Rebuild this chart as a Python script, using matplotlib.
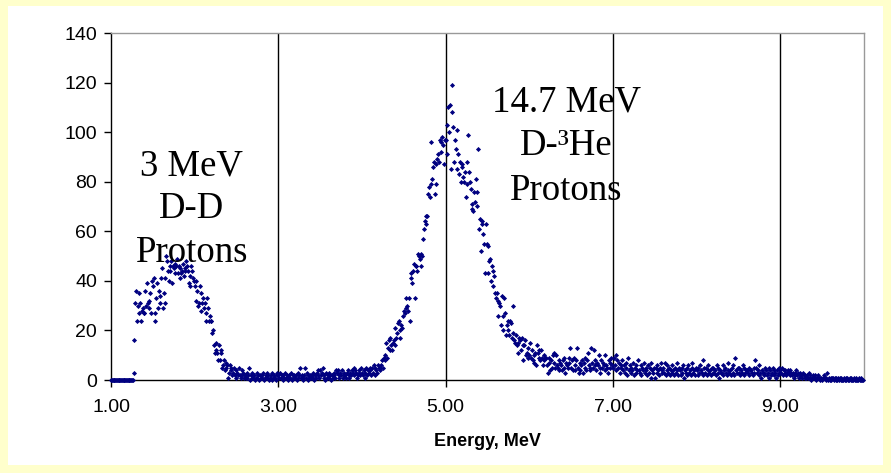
import numpy as np
import matplotlib
matplotlib.use("Agg")
import matplotlib.pyplot as plt
from matplotlib.patches import Rectangle
from matplotlib.ticker import FormatStrFormatter

# channel energies: 1.00 .. 9.99 MeV, 0.01 MeV per channel
energy_start = 1.00
energy_step = 0.01

# counts per channel, one list per MeV
counts_1 = [0, 0, 0, 0, 0, 0, 0, 0, 0, 0,
            0, 0, 0, 0, 0, 0, 0, 0, 0, 0,
            0, 0, 0, 0, 0, 0, 0, 3, 16, 31,
            36, 24, 30, 27, 35, 31, 24, 28, 29, 27,
            27, 36, 30, 39, 31, 32, 29, 35, 27, 40,
            38, 41, 27, 24, 33, 39, 29, 36, 31, 34,
            41, 45, 29, 35, 41, 31, 50, 48, 44, 40,
            46, 44, 48, 39, 46, 45, 47, 43, 46, 49,
            43, 46, 45, 41, 43, 44, 47, 42, 45, 44,
            48, 46, 44, 39, 42, 38, 46, 44, 41, 40]
counts_2 = [38, 40, 32, 36, 30, 31, 38, 35, 28, 31,
            33, 29, 31, 24, 27, 33, 29, 24, 26, 24,
            24, 19, 20, 14, 11, 15, 12, 11, 8, 14,
            8, 12, 11, 5, 6, 8, 4, 7, 5, 6,
            1, 3, 6, 5, 4, 2, 3, 5, 2, 4,
            1, 3, 2, 5, 2, 1, 4, 2, 3, 1,
            2, 1, 3, 1, 2, 5, 0, 2, 1, 3,
            1, 2, 0, 1, 3, 1, 2, 0, 2, 1,
            2, 1, 3, 0, 1, 2, 1, 3, 2, 0,
            1, 2, 0, 3, 1, 2, 1, 0, 2, 3]
counts_3 = [2, 1, 3, 1, 2, 0, 2, 1, 3, 1,
            2, 0, 1, 2, 1, 3, 0, 2, 1, 2,
            1, 2, 0, 3, 1, 2, 5, 1, 2, 0,
            1, 2, 5, 1, 3, 0, 2, 1, 2, 1,
            2, 1, 3, 0, 2, 1, 3, 2, 4, 1,
            4, 2, 3, 5, 1, 2, 0, 3, 1, 2,
            1, 3, 2, 0, 2, 1, 3, 2, 1, 4,
            3, 4, 2, 1, 3, 2, 4, 1, 2, 3,
            2, 1, 3, 4, 2, 1, 3, 2, 4, 3,
            5, 2, 4, 3, 1, 2, 4, 3, 2, 5]
counts_4 = [3, 2, 4, 1, 3, 5, 2, 4, 3, 5,
            4, 2, 5, 3, 6, 5, 2, 4, 3, 6,
            5, 4, 5, 6, 8, 5, 9, 8, 10, 15,
            9, 13, 16, 12, 17, 14, 12, 15, 16, 14,
            21, 17, 19, 23, 24, 17, 20, 22, 21, 26,
            28, 27, 33, 29, 30, 28, 33, 24, 41, 43,
            39, 44, 47, 33, 46, 46, 44, 51, 50, 49,
            46, 51, 50, 57, 61, 64, 66, 63, 66, 75,
            78, 74, 79, 96, 81, 86, 88, 75, 87, 79,
            89, 91, 88, 97, 96, 92, 98, 95, 87, 97]
counts_5 = [97, 103, 91, 110, 100, 111, 85, 108, 119, 102,
            88, 97, 93, 101, 85, 91, 83, 88, 80, 87,
            86, 82, 80, 84, 74, 79, 88, 99, 84, 80,
            77, 69, 71, 68, 76, 72, 81, 70, 76, 93,
            61, 65, 52, 64, 63, 59, 55, 43, 63, 55,
            43, 54, 48, 49, 40, 46, 38, 44, 42, 35,
            33, 35, 26, 32, 31, 30, 22, 34, 26, 20,
            33, 27, 18, 22, 24, 20, 18, 24, 23, 17,
            30, 19, 16, 15, 18, 14, 15, 11, 17, 16,
            12, 17, 14, 8, 14, 16, 10, 11, 9, 13]
counts_6 = [10, 15, 9, 12, 8, 10, 7, 11, 6, 14,
            11, 9, 12, 8, 12, 9, 6, 10, 8, 9,
            9, 6, 3, 7, 9, 4, 8, 5, 10, 7,
            11, 5, 10, 6, 5, 8, 4, 7, 6, 4,
            8, 5, 9, 3, 7, 6, 5, 7, 9, 13,
            5, 8, 4, 9, 6, 4, 8, 13, 5, 3,
            7, 4, 6, 8, 3, 7, 5, 9, 4, 8,
            11, 6, 5, 4, 13, 7, 5, 12, 8, 6,
            4, 7, 6, 10, 5, 3, 8, 5, 7, 6,
            10, 4, 6, 5, 3, 8, 7, 5, 9, 6]
counts_7 = [5, 9, 6, 10, 4, 8, 5, 7, 3, 6,
            5, 8, 4, 6, 3, 7, 5, 2, 9, 4,
            6, 3, 5, 4, 7, 2, 5, 3, 6, 4,
            8, 4, 3, 6, 2, 5, 4, 7, 3, 5,
            4, 2, 6, 3, 5, 7, 1, 4, 3, 5,
            1, 5, 3, 6, 4, 2, 5, 7, 3, 4,
            5, 3, 7, 2, 4, 6, 3, 5, 2, 4,
            3, 6, 4, 2, 5, 3, 7, 4, 2, 5,
            4, 2, 5, 3, 6, 1, 4, 3, 5, 2,
            6, 3, 4, 2, 5, 7, 3, 4, 2, 5]
counts_8 = [4, 2, 5, 3, 6, 4, 3, 8, 2, 5,
            3, 5, 2, 4, 6, 3, 4, 2, 5, 3,
            5, 3, 4, 2, 6, 3, 5, 1, 4, 3,
            3, 6, 2, 4, 5, 3, 2, 7, 4, 3,
            4, 2, 5, 3, 6, 2, 9, 4, 3, 5,
            3, 5, 2, 4, 3, 6, 2, 5, 3, 4,
            4, 3, 5, 2, 4, 4, 3, 2, 5, 3,
            8, 5, 3, 4, 2, 6, 3, 1, 4, 3,
            3, 2, 5, 4, 2, 3, 5, 1, 4, 2,
            3, 5, 2, 4, 3, 1, 4, 2, 5, 3]
counts_9 = [4, 3, 5, 2, 4, 3, 4, 2, 3, 4,
            3, 2, 4, 3, 2, 3, 1, 3, 2, 4,
            2, 3, 1, 2, 3, 2, 1, 3, 2, 1,
            2, 1, 2, 1, 3, 1, 2, 0, 1, 2,
            1, 2, 1, 0, 1, 2, 1, 0, 1, 1,
            0, 1, 2, 1, 0, 1, 3, 0, 1, 0,
            1, 0, 1, 1, 0, 1, 0, 1, 0, 1,
            0, 1, 0, 1, 0, 0, 1, 0, 1, 0,
            1, 0, 0, 1, 0, 1, 0, 0, 1, 0,
            0, 1, 0, 0, 1, 0, 0, 1, 0, 0]

x_ticks = [1.0, 3.0, 5.0, 7.0, 9.0]
y_ticks = [0, 20, 40, 60, 80, 100, 120, 140]

counts = counts_1 + counts_2 + counts_3 + counts_4 + counts_5 + counts_6 + counts_7 + counts_8 + counts_9
energy = energy_start + energy_step * np.arange(len(counts))

W, H = 891, 473
fig = plt.figure(figsize=(W / 100, H / 100), dpi=100)
fig.patch.set_facecolor('#FFFFCC')
# white chart area, behind the axes
fig.add_artist(Rectangle((8 / W, 8 / H), 875 / W, 459 / H, transform=fig.transFigure,
                         facecolor='white', edgecolor='none', zorder=-5))

ax = fig.add_axes([111 / W, (H - 380) / H, 753 / W, 347 / H])
ax.set_zorder(1)
ax.set_facecolor('white')
ax.plot(energy, counts, linestyle='none', marker='D', markersize=2.6,
        color='#000080', markeredgewidth=0, zorder=3, clip_on=False)

ax.set_xlim(1, 10)
ax.set_ylim(0, 140)
ax.set_xticks(x_ticks)
ax.set_yticks(y_ticks)
ax.xaxis.set_major_formatter(FormatStrFormatter('%.2f'))
ax.tick_params(direction='out', length=5, width=1, colors='black', labelsize=14)
ax.tick_params(axis='x', pad=9)
ax.tick_params(axis='y', pad=5)
for lab in ax.get_xticklabels() + ax.get_yticklabels():
    lab.set_family('Liberation Sans')

for x in x_ticks[1:]:
    ax.axvline(x, color='black', linewidth=1, zorder=1)

ax.spines['left'].set_color('black')
ax.spines['bottom'].set_color('black')
ax.spines['top'].set_color('#999999')
ax.spines['right'].set_color('#999999')
for s in ax.spines.values():
    s.set_linewidth(1)

ax.set_xlabel('Energy, MeV', fontsize=13, fontweight='bold', family='Liberation Sans', labelpad=12)

serif = dict(family='Liberation Serif', fontsize=26.5, ha='center', va='baseline', zorder=4)
for txt, y in zip(['3 MeV', 'D-D', 'Protons'], [82.7, 65.3, 47.6]):
    ax.text(1.965, y, txt, **serif)
for txt, y in zip(['14.7 MeV', 'D-³He', 'Protons'], [108.2, 90.8, 72.6]):
    ax.text(6.44, y, txt, **serif)

fig.savefig('out.png', dpi=100, facecolor=fig.get_facecolor())
